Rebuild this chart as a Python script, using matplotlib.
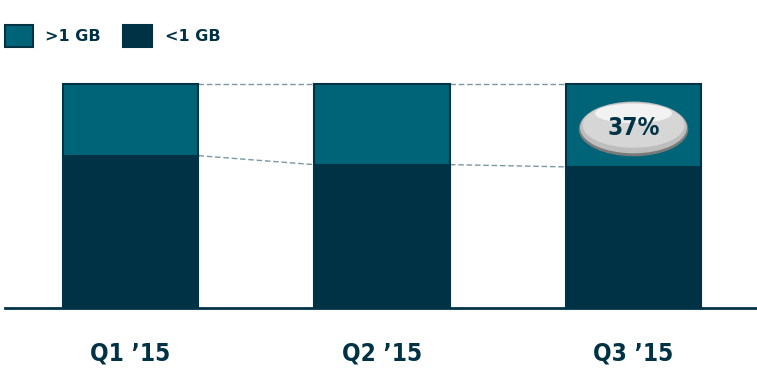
import matplotlib.pyplot as plt
from matplotlib.patches import Ellipse, Rectangle

# share of devices by data usage per quarter, in percent
quarters = ["Q1 \u201915", "Q2 \u201915", "Q3 \u201915"]
over_1gb = [32, 36, 37]
under_1gb = [68, 64, 63]

dark = "#003246"
teal = "#006478"
dash = "#7d97a5"

fig = plt.figure(figsize=(7.57, 3.68), dpi=100)
ax = fig.add_axes([0, 0, 1, 1])
ax.set_xlim(-0.519, 2.491)
ax.set_ylim(-26.8, 137.5)
ax.axis("off")

x = range(len(quarters))
w = 0.54
ax.bar(x, under_1gb, width=w, color=dark, edgecolor=dark, linewidth=1.5, zorder=3)
ax.bar(x, over_1gb, width=w, bottom=under_1gb, color=teal, edgecolor=dark,
       linewidth=1.5, zorder=3)

# dashed connectors between neighbouring bars
for i in range(len(quarters) - 1):
    x0, x1 = i + w / 2, i + 1 - w / 2
    ax.plot([x0, x1], [100, 100], ls=(0, (4, 2)), color=dash, lw=1, zorder=2)
    ax.plot([x0, x1], [under_1gb[i], under_1gb[i + 1]], ls=(0, (4, 2)),
            color=dash, lw=1, zorder=2)

# baseline
ax.plot([-0.5, 2.5], [0, 0], color=dark, lw=2, clip_on=False, zorder=4)

for i, q in enumerate(quarters):
    ax.text(i, -20.5, q, ha="center", va="center", fontsize=17.5,
            fontweight="bold", fontstretch="condensed", color=dark)

# glossy badge on the last bar
cx, cy = 2, 80.4
ax.add_patch(Ellipse((cx, cy - 0.6), 0.43, 23.5, color="#7a7a7a", zorder=5))
ax.add_patch(Ellipse((cx, cy + 0.2), 0.42, 22.5, color="#bdbdbd", zorder=5))
ax.add_patch(Ellipse((cx, cy + 1.2), 0.40, 19.5, color="#d6d6d6", zorder=5))
ax.add_patch(Ellipse((cx, cy + 6.5), 0.30, 8, color="#f2f2f2", zorder=5))
ax.text(cx, cy, f"{over_1gb[-1]}%", ha="center", va="center", fontsize=17.5,
        fontweight="bold", fontstretch="condensed", color=dark, zorder=6)

# legend
ax.add_patch(Rectangle((-0.499, 116.5), 0.111, 9.8, facecolor=teal,
                       edgecolor=dark, lw=1.5, clip_on=False))
ax.text(-0.34, 121.4, ">1 GB", ha="left", va="center", fontsize=11.5,
        fontweight="bold", color=dark)
ax.add_patch(Rectangle((-0.029, 116.5), 0.115, 9.8, facecolor=dark,
                       edgecolor=dark, lw=1.5, clip_on=False))
ax.text(0.137, 121.4, "<1 GB", ha="left", va="center", fontsize=11.5,
        fontweight="bold", color=dark)

fig.savefig("out.png", dpi=100)
